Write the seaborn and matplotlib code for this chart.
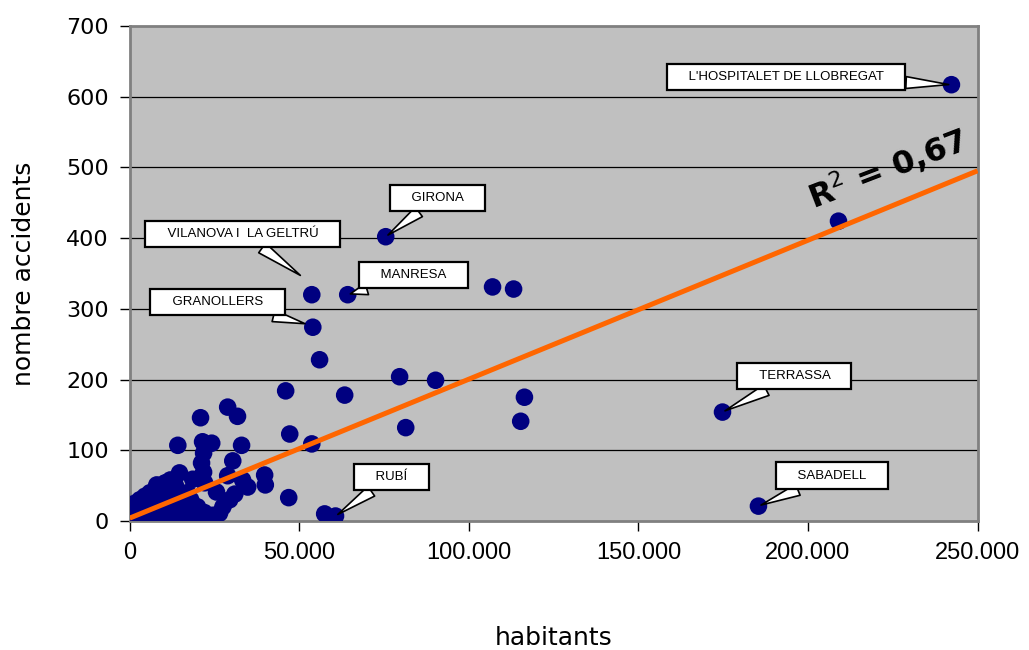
"""
Accidents vs habitants per municipi, amb recta de tendència
"""
import numpy as np
import pandas as pd
import seaborn as sns
import matplotlib
matplotlib.use("Agg")
import matplotlib.pyplot as plt
from matplotlib.ticker import FuncFormatter

# Municipis (habitants, nombre accidents) llegits del gràfic
habitants = [
    242300, 209000, 174800, 185400, 75500, 64300, 53700, 54000, 56000, 63400,
    46000, 79600, 90200, 107000, 113200, 116400, 115300, 81400, 47200, 53700,
    46900, 60700, 57500,
    20900, 28900, 31800, 14200, 21500, 24200, 33000, 21800, 21200, 21800,
    30400, 28900, 39800, 40000, 18600, 14700, 33300, 34800, 22100, 25600,
    29500, 23000, 26500, 15600, 9400, 8000, 31000, 27500, 24500,
    500, 1000, 1500, 2000, 2500, 3000, 3500, 4000, 4500, 5000, 5500, 6000,
    6500, 7000, 7500, 8000, 8500, 9000, 9500, 10000, 10500, 11000, 11500,
    12000, 12500, 13000, 13500, 14000, 15000, 15500, 16000, 17000, 17500,
    18000, 19000, 20000, 22000, 1000, 2000, 3000, 4000, 5000, 6000, 7000,
    8000, 9000, 10000, 11000, 12000, 13000, 800, 2200, 3500, 5000, 6500,
    8000, 9500, 11000, 12500, 14000, 1500, 3000, 4500, 6000, 7500, 9000,
    10500, 12000, 13500, 300, 700, 1200, 1800,
]
accidents = [
    617, 424, 154, 21, 402, 320, 320, 274, 228, 178,
    184, 204, 199, 331, 328, 175, 141, 132, 123, 109,
    33, 7, 10,
    146, 161, 148, 107, 112, 110, 107, 96, 82, 69,
    85, 64, 65, 51, 59, 68, 58, 48, 54, 41,
    30, 4, 11, 4, 4, 51, 38, 20, 8,
    2, 5, 8, 3, 12, 6, 18, 10, 4, 14, 22, 8,
    16, 28, 12, 20, 35, 6, 26, 15, 40, 10, 30,
    22, 45, 8, 18, 35, 12, 25, 5, 40, 15,
    30, 8, 20, 12, 15, 20, 25, 28, 30, 35, 38,
    42, 44, 48, 50, 52, 55, 10, 0, 0, 2, 0,
    3, 1, 2, 0, 3, 25, 30, 35, 40, 42, 48,
    54, 58, 50, 1, 6, 3, 9,
]

# Recta de tendència i R²
trend_slope = 0.001965
trend_intercept = 4
r2_text = "R$^2$ = 0,67"

# Etiquetes: (text, habitants punt, accidents punt, habitants caixa, accidents caixa)
label_names = ["L'HOSPITALET DE LLOBREGAT", "GIRONA", "VILANOVA I  LA GELTRÚ",
               "MANRESA", "GRANOLLERS", "TERRASSA", "SABADELL", "RUBÍ"]
label_px = [242300, 75500, 51000, 64300, 52500, 174800, 185400, 60700]
label_py = [617, 402, 345, 320, 278, 154, 21, 7]
label_bx = [193500, 90800, 33300, 83700, 25900, 196000, 207000, 77200]
label_by = [628, 457, 406, 348, 310, 205, 64, 62]

df = pd.DataFrame({"habitants": habitants, "accidents": accidents})

sns.set_style("white")
plt.rcParams["font.family"] = ["DejaVu Sans"]
plt.rcParams["text.color"] = "black"

fig = plt.figure(figsize=(10.29, 6.5), dpi=100)
ax = fig.add_axes([0.126, 0.1985, 0.824, 0.7615])
ax.set_facecolor("#C0C0C0")

ax.set_xlim(0, 250000)
ax.set_ylim(0, 700)
ax.set_yticks(range(0, 701, 100))
ax.set_xticks(range(0, 250001, 50000))
for yv in range(100, 700, 100):
    ax.axhline(yv, color="black", lw=0.9, zorder=1)

sns.scatterplot(data=df, x="habitants", y="accidents", ax=ax, color="#000080",
                s=160, marker="o", edgecolor="none", zorder=3, legend=False)

xs = np.array(ax.get_xlim())
ax.plot(xs, trend_intercept + trend_slope * xs, color="#FF6600", lw=3.6,
        zorder=4, solid_capstyle="butt")

ax.text(198500, 432, r2_text, rotation=21, fontsize=23, fontweight="bold",
        color="black", ha="left", va="bottom", zorder=6)

for name, px, py, bx, by in zip(label_names, label_px, label_py, label_bx, label_by):
    ax.annotate("    " + name + "    ", xy=(px, py), xytext=(bx, by), fontsize=9.5,
                ha="center", va="center", family="Liberation Sans", color="black",
                zorder=7,
                bbox=dict(boxstyle="square,pad=0.55", fc="white", ec="black", lw=1.6),
                arrowprops=dict(arrowstyle="wedge,tail_width=0.9,shrink_factor=0.5",
                                fc="white", ec="black", lw=1.2, shrinkA=0, shrinkB=2))

ax.xaxis.set_major_formatter(FuncFormatter(lambda v, p: f"{int(v):,}".replace(",", ".")))
ax.tick_params(axis="both", direction="out", length=7, width=1, color="black",
               labelsize=16, labelcolor="black", pad=8, left=True, bottom=True)
for lab in ax.get_xticklabels():
    lab.set_family("Liberation Sans")
    lab.set_fontsize(17)

for side in ["left", "bottom", "top", "right"]:
    ax.spines[side].set_color("#808080")
    ax.spines[side].set_linewidth(2)

ax.set_xlabel("habitants", fontsize=18, labelpad=45, color="black")
ax.set_ylabel("nombre accidents", fontsize=18, labelpad=22, color="black")

fig.savefig("out.png", dpi=100)
